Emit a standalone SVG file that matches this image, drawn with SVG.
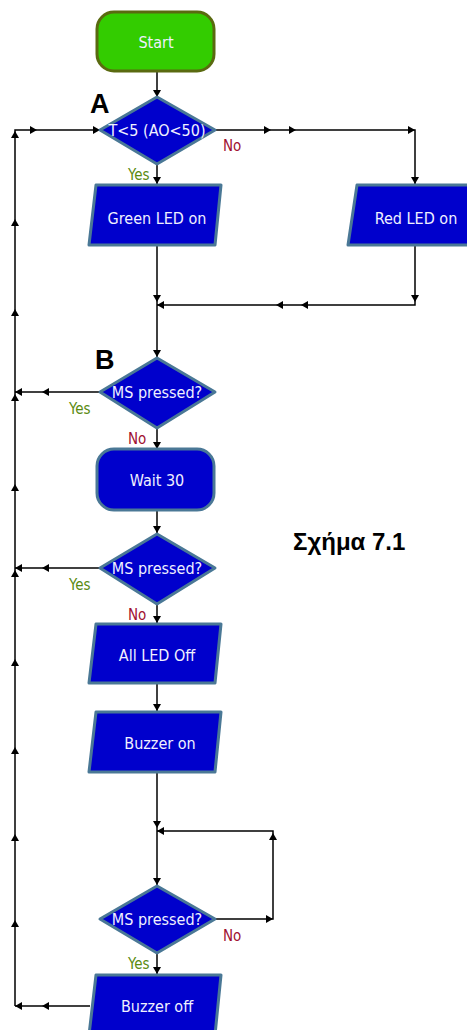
<svg xmlns="http://www.w3.org/2000/svg" xmlns:xlink="http://www.w3.org/1999/xlink" width="467" height="1030" viewBox="0 0 467 1030">
<style>
.blk{fill:#0000cc;stroke:#4a7896;stroke-width:3;stroke-linejoin:round}
.start{fill:#33cc00;stroke:#5a6a10;stroke-width:3}
.t{font-family:"DejaVu Sans Condensed","Liberation Sans",sans-serif;font-size:16px;fill:#f0f0ff;text-anchor:middle}
.ln{fill:none;stroke:#000;stroke-width:1.5}
.yes{font-family:"DejaVu Sans Condensed","Liberation Sans",sans-serif;font-size:15px;fill:#5a8a10}
.no{font-family:"DejaVu Sans Condensed","Liberation Sans",sans-serif;font-size:15px;fill:#a01030}
.big{font-family:"Liberation Sans",Arial,sans-serif;font-weight:bold;font-size:27px;fill:#000}
.cap{font-family:"Liberation Sans",Arial,sans-serif;font-weight:bold;font-size:24px;fill:#000}
</style>
<defs>
<path id="ah" d="M0,0 L-7,-4 L-7,4 Z" fill="#000"/>
</defs>
<g id="connectors">
<path class="ln" d="M157,72 V97"/>
<path class="ln" d="M15,1006 V130 H100"/>
<path class="ln" d="M215,130 H415 V184"/>
<path class="ln" d="M157,164 V184"/>
<path class="ln" d="M157,245 V357"/>
<path class="ln" d="M415,245 V305 H157"/>
<path class="ln" d="M100,392 H15"/>
<path class="ln" d="M157,428 V449"/>
<path class="ln" d="M157,510 V533"/>
<path class="ln" d="M100,568 H15"/>
<path class="ln" d="M157,604 V623"/>
<path class="ln" d="M157,683 V711"/>
<path class="ln" d="M157,772 V885"/>
<path class="ln" d="M215,919 H273 V831 H157"/>
<path class="ln" d="M157,953 V974"/>
<path class="ln" d="M90,1006 H15"/>
<use xlink:href="#ah" transform="translate(157,97) rotate(90)"/>
<use xlink:href="#ah" transform="translate(37,130)"/>
<use xlink:href="#ah" transform="translate(100,130)"/>
<use xlink:href="#ah" transform="translate(271,130)"/>
<use xlink:href="#ah" transform="translate(296,130)"/>
<use xlink:href="#ah" transform="translate(415,130)"/>
<use xlink:href="#ah" transform="translate(415,184) rotate(90)"/>
<use xlink:href="#ah" transform="translate(157,184) rotate(90)"/>
<use xlink:href="#ah" transform="translate(157,302) rotate(90)"/>
<use xlink:href="#ah" transform="translate(415,302) rotate(90)"/>
<use xlink:href="#ah" transform="translate(276,305) rotate(180)"/>
<use xlink:href="#ah" transform="translate(301,305) rotate(180)"/>
<use xlink:href="#ah" transform="translate(157,305) rotate(180)"/>
<use xlink:href="#ah" transform="translate(157,357) rotate(90)"/>
<use xlink:href="#ah" transform="translate(42,392) rotate(180)"/>
<use xlink:href="#ah" transform="translate(15,392) rotate(180)"/>
<use xlink:href="#ah" transform="translate(157,449) rotate(90)"/>
<use xlink:href="#ah" transform="translate(157,533) rotate(90)"/>
<use xlink:href="#ah" transform="translate(42,568) rotate(180)"/>
<use xlink:href="#ah" transform="translate(15,568) rotate(180)"/>
<use xlink:href="#ah" transform="translate(157,623) rotate(90)"/>
<use xlink:href="#ah" transform="translate(157,711) rotate(90)"/>
<use xlink:href="#ah" transform="translate(157,828) rotate(90)"/>
<use xlink:href="#ah" transform="translate(157,831) rotate(180)"/>
<use xlink:href="#ah" transform="translate(157,885) rotate(90)"/>
<use xlink:href="#ah" transform="translate(273,919)"/>
<use xlink:href="#ah" transform="translate(273,833) rotate(-90)"/>
<use xlink:href="#ah" transform="translate(157,974) rotate(90)"/>
<use xlink:href="#ah" transform="translate(42,1006) rotate(180)"/>
<use xlink:href="#ah" transform="translate(15,1006) rotate(180)"/>
<use xlink:href="#ah" transform="translate(15,131) rotate(-90)"/>
<use xlink:href="#ah" transform="translate(15,219) rotate(-90)"/>
<use xlink:href="#ah" transform="translate(15,309) rotate(-90)"/>
<use xlink:href="#ah" transform="translate(15,394) rotate(-90)"/>
<use xlink:href="#ah" transform="translate(15,484) rotate(-90)"/>
<use xlink:href="#ah" transform="translate(15,570) rotate(-90)"/>
<use xlink:href="#ah" transform="translate(15,659) rotate(-90)"/>
<use xlink:href="#ah" transform="translate(15,747) rotate(-90)"/>
<use xlink:href="#ah" transform="translate(15,834) rotate(-90)"/>
<use xlink:href="#ah" transform="translate(15,920) rotate(-90)"/>
</g>
<g id="start">
<rect class="start" x="97" y="12" width="117" height="59" rx="17"/>
<text class="t" x="156" y="48">Start</text>
</g>
<g id="decisionA">
<path class="blk" d="M157,97 L215,130 L157,164 L100,130 Z"/>
<text class="t" x="157" y="136">T&lt;5 (AO&lt;50)</text>
<text class="big" x="90" y="113">A</text>
<text class="yes" x="128" y="180">Yes</text>
<text class="no" x="223" y="151">No</text>
</g>
<g id="greenLed">
<path class="blk" d="M96,185 H221 L215,245 H89 Z"/>
<text class="t" x="157" y="224">Green LED on</text>
</g>
<g id="redLed">
<path class="blk" d="M357,185 H470 L470,245 H348 Z"/>
<text class="t" x="416" y="224">Red LED on</text>
</g>
<g id="decisionB">
<path class="blk" d="M157,358 L215,392 L157,428 L100,392 Z"/>
<text class="t" x="157" y="398">MS pressed?</text>
<text class="big" x="95" y="369">B</text>
<text class="yes" x="69" y="414">Yes</text>
<text class="no" x="128" y="444">No</text>
</g>
<g id="wait">
<rect class="blk" x="97" y="449" width="117" height="61" rx="17"/>
<text class="t" x="157" y="486">Wait 30</text>
</g>
<g id="decisionC">
<path class="blk" d="M157,534 L215,568 L157,604 L100,568 Z"/>
<text class="t" x="157" y="574">MS pressed?</text>
<text class="yes" x="69" y="590">Yes</text>
<text class="no" x="128" y="620">No</text>
</g>
<g id="allOff">
<path class="blk" d="M96,624 H221 L215,683 H89 Z"/>
<text class="t" x="157" y="661">All LED Off</text>
</g>
<g id="buzzerOn">
<path class="blk" d="M96,712 H221 L215,772 H89 Z"/>
<text class="t" x="160" y="749">Buzzer on</text>
</g>
<g id="decisionD">
<path class="blk" d="M157,886 L215,919 L157,953 L100,919 Z"/>
<text class="t" x="157" y="925">MS pressed?</text>
<text class="no" x="223" y="941">No</text>
<text class="yes" x="128" y="969">Yes</text>
</g>
<g id="buzzerOff">
<path class="blk" d="M96,975 H221 L215,1035 H89 Z"/>
<text class="t" x="157" y="1012">Buzzer off</text>
</g>
<text class="cap" x="293" y="550">Σχήμα 7.1</text>
</svg>
